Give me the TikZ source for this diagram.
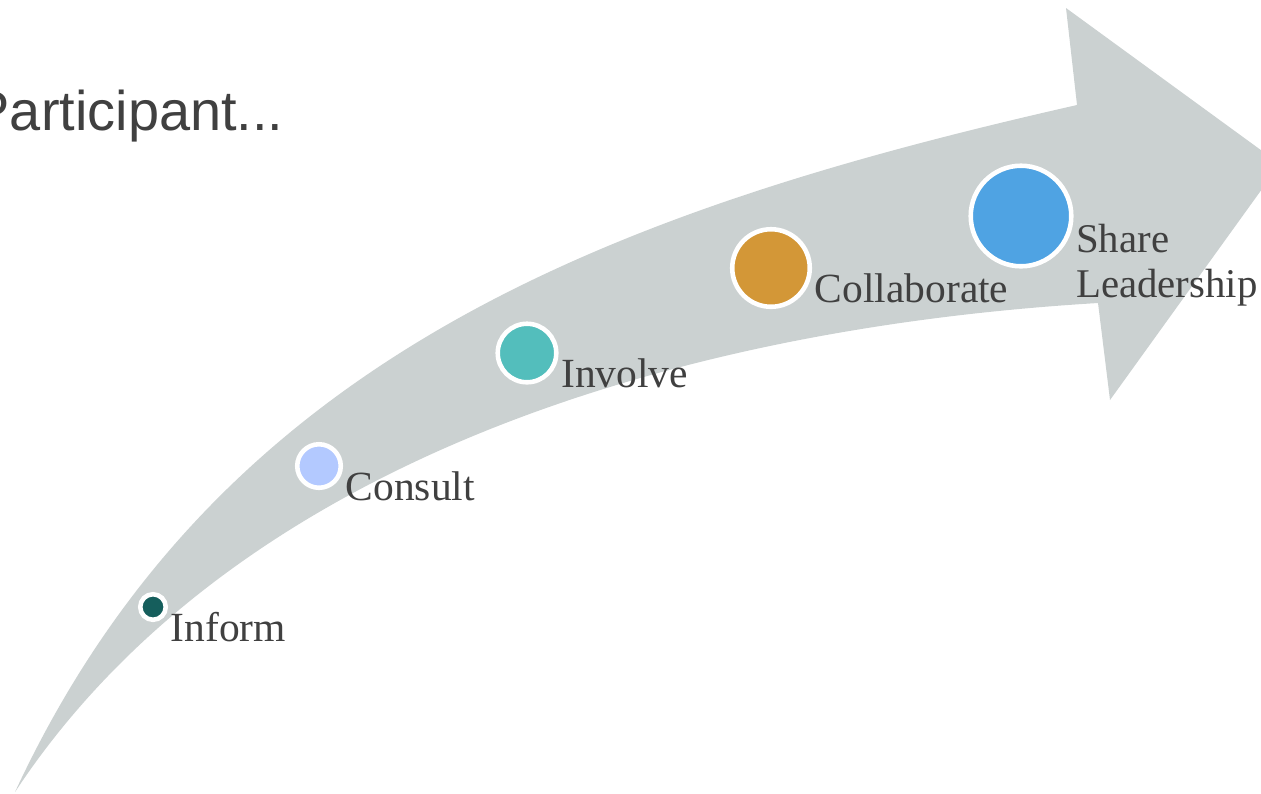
\documentclass[tikz,border=0pt]{standalone}
\usepackage{fontspec}
\setmainfont{Liberation Serif}
\newfontfamily\titlefont{Liberation Sans}
\usetikzlibrary{positioning}
\definecolor{bandgrey}{RGB}{203, 209, 209}
\definecolor{textgrey}{RGB}{64, 64, 64}
\definecolor{informteal}{RGB}{21, 94, 92}
\definecolor{consultblue}{RGB}{179, 201, 255}
\definecolor{involveteal}{RGB}{83, 190, 188}
\definecolor{collabgold}{RGB}{211, 151, 55}
\definecolor{shareblue}{RGB}{79, 163, 227}
\tikzstyle{band} = [fill=bandgrey]
\tikzstyle{stage} = [circle, draw=white, line width=1.3pt, inner sep=0pt]
\tikzstyle{stagelabel} = [inner sep=0pt, text=textgrey, align=left,
    font=\fontsize{11.8}{12.8}\selectfont]

\begin{document}
\begin{tikzpicture}[x=0.01cm, y=-0.01cm]
  \useasboundingbox (0,0) rectangle (1261,793);
  \clip (0,0) rectangle (1261,793);
  % curved arrow
  \fill [band] (15,792) .. controls (217,357) and (609,211) .. (1077,105)
    -- (1066,8) -- (1280,164) -- (1110,400) -- (1098,303)
    .. controls (649,330) and (224,475) .. (15,792) -- cycle;
  \node [anchor=base west, inner sep=0pt, text=textgrey,
    font=\titlefont\fontsize{15.9}{18}\selectfont] (title) at (-28,130) {Participant...};
  % stages
  \node [stage, fill=informteal, minimum size=0.255cm] (inform) at (153,607) {};
  \node [stagelabel, below right=0.34cm and 0.02cm of inform.east, anchor=base west] (informlbl) {Inform};
  \node [stage, fill=consultblue, minimum size=0.435cm] (consult) at (319,466) {};
  \node [stagelabel, below right=0.34cm and 0.02cm of consult.east, anchor=base west] (consultlbl) {Consult};
  \node [stage, fill=involveteal, minimum size=0.585cm] (involve) at (527,353) {};
  \node [stagelabel, below right=0.34cm and 0.02cm of involve.east, anchor=base west] (involvelbl) {Involve};
  \node [stage, fill=collabgold, minimum size=0.775cm] (collab) at (771,268) {};
  \node [stagelabel, below right=0.34cm and 0.02cm of collab.east, anchor=base west] (collablbl) {Collaborate};
  \node [stage, fill=shareblue, minimum size=1.005cm] (share) at (1021,216) {};
  \node [stagelabel, below right=0.81cm and 0.02cm of share.east, anchor=base west,
    font=\fontsize{11.6}{12.8}\selectfont] (sharelbl) {Share\\Leadership};
\end{tikzpicture}
\end{document}
